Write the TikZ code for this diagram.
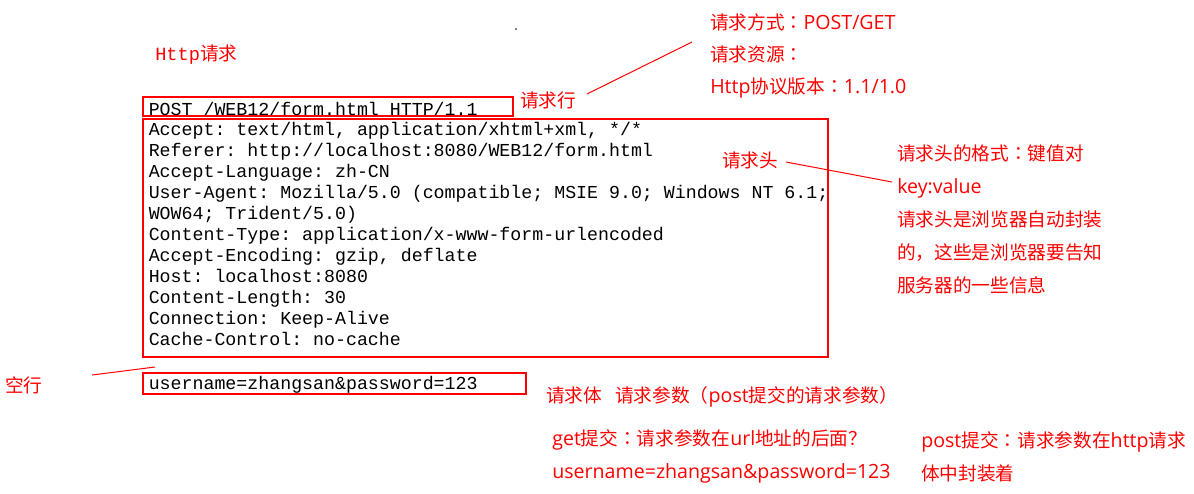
\documentclass[tikz,border=0pt]{standalone}
\usepackage{fontspec}
\newfontfamily\cjkfont{Noto Sans CJK SC}
\newfontfamily\colonfont{Noto Sans CJK TC}
\newfontfamily\latinfont{Open Sans}[Scale=1.05]
\newfontfamily\codefont{Liberation Mono}
\newcommand\fcolon{{\colonfont ：}}
\usetikzlibrary{fit}
\definecolor{notered}{RGB}{255,0,0}
\tikzstyle{msgbox} = [rectangle, draw=notered, line width=0.9pt, inner sep=0pt]
\tikzstyle{code} = [text=black, font=\codefont\fontsize{13.7}{15.75}\selectfont\frenchspacing, align=left, inner sep=0pt]
\tikzstyle{note} = [text=notered, font=\cjkfont\fontsize{14}{24.75}\selectfont, align=left, inner sep=0pt, anchor=west]
\tikzstyle{leader} = [draw=notered, line width=0.75pt]

\begin{document}
\begin{tikzpicture}[x=0.75pt,y=-0.75pt]
		\useasboundingbox[fill=white] (0,0) rectangle (1194,493);
		% message boxes
		\node [msgbox, fit={(143,97) (513,116)}] (linebox) {};
		\node [msgbox, fit={(143,119) (828,357)}] (headbox) {};
		\node [msgbox, fit={(143,373) (526,394)}] (bodybox) {};
		% message text
		\node [code, anchor=base west] (reqline) at (148.5,115) {POST /WEB12/form.html HTTP/1.1};
		\node [code, anchor=north west] (headers) at (148.5,122.2) {Accept: text/html, application/xhtml+xml, */*\\
			Referer: http://localhost:8080/WEB12/form.html\\
			Accept-Language: zh-CN\\
			User-Agent: Mozilla/5.0 (compatible; MSIE 9.0; Windows NT 6.1;\\
			WOW64; Trident/5.0)\\
			Content-Type: application/x-www-form-urlencoded\\
			Accept-Encoding: gzip, deflate\\
			Host: localhost:8080\\
			Content-Length: 30\\
			Connection: Keep-Alive\\
			Cache-Control: no-cache};
		\node [code, anchor=base west] (reqbody) at (148.5,389) {username=zhangsan\&password=123};
		% part labels
		\node [note] (httplbl) at (155,55) {{\codefont Http}请求};
		\node [note] (rowlbl) at (520,100) {请求行};
		\node [note] (hdrlbl) at (722,160) {请求头};
		\node [note] (blanklbl) at (5,385) {空行};
		% notes
		\node [note, font=\cjkfont\fontsize{14}{24}\selectfont] (methodlbl) at (710,56) {请求方式\fcolon{\latinfont POST/GET}\\请求资源\fcolon\\{\latinfont Http}协议版本\fcolon{\latinfont 1.1/1.0}};
		\node [note] (formatlbl) at (897,219) {请求头的格式\fcolon 键值对\\{\latinfont key:value}\\请求头是浏览器自动封装\\的，这些是浏览器要告知\\服务器的一些信息};
		\node [note] (bodylbl) at (546,397) {请求体\hspace{0.7em}请求参数（{\latinfont post}提交的请求参数）};
		\node [note] (getlbl) at (552,456.5) {{\latinfont get}提交\fcolon 请求参数在{\latinfont url}地址的后面？\\{\latinfont username=zhangsan\&password=123}};
		\node [note] (postlbl) at (921,456.5) {{\latinfont post}提交\fcolon 请求参数在{\latinfont http}请求\\体中封装着};
		% leader lines
		\coordinate (rowtip) at (587,94);
		\coordinate (methodtip) at (692,42);
		\coordinate (hdrtip) at (786,162);
		\coordinate (formattip) at (892,182);
		\coordinate (blanktip) at (92,375);
		\coordinate (gaptip) at (155,367);
		\draw [leader] (rowtip) -- (methodtip);
		\draw [leader] (hdrtip) -- (formattip);
		\draw [leader] (blanktip) -- (gaptip);
		% stray dot
		\fill [black] (516,29) circle (0.8);
	\end{tikzpicture}
\end{document}
